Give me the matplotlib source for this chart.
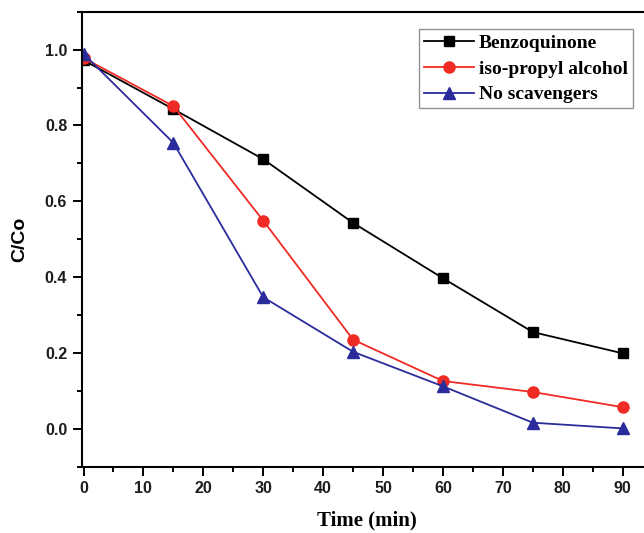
import numpy as np
import matplotlib
matplotlib.use('Agg')
import matplotlib.pyplot as plt
from matplotlib.ticker import MultipleLocator

# Degradation data (C/Co vs time) with different scavengers
time = [0, 15, 30, 45, 60, 75, 90]
benzoquinone = [0.972, 0.843, 0.711, 0.543, 0.397, 0.255, 0.199]
ipa = [0.978, 0.851, 0.549, 0.235, 0.126, 0.097, 0.057]
no_scav = [0.989, 0.754, 0.347, 0.203, 0.112, 0.016, 0.001]
labels = ['Benzoquinone', 'iso-propyl alcohol', 'No scavengers']

fig = plt.figure(figsize=(6.44, 5.33), dpi=100)
ax = fig.add_axes([0.1269, 0.1244, 0.8865, 0.8537])

ax.plot(time, benzoquinone, color='black', lw=1.3, marker='s', ms=7, label=labels[0])
ax.plot(time, ipa, color='#f02a24', lw=1.3, marker='o', ms=8, label=labels[1])
ax.plot(time, no_scav, color='#2b2c9c', lw=1.3, marker='^', ms=8.5, label=labels[2])

ax.set_xlim(-0.3, 95)
ax.set_ylim(-0.1, 1.1)
ax.xaxis.set_major_locator(MultipleLocator(10))
ax.xaxis.set_minor_locator(MultipleLocator(5))
ax.yaxis.set_major_locator(MultipleLocator(0.2))
ax.yaxis.set_minor_locator(MultipleLocator(0.1))
ax.yaxis.set_major_formatter(matplotlib.ticker.FormatStrFormatter('%.1f'))

for s in ['left', 'bottom', 'top']:
    ax.spines[s].set_linewidth(1.5)
ax.spines['right'].set_visible(False)
ax.tick_params(which='major', direction='out', length=6.5, width=1.4, pad=4,
               labelsize=11.5, top=False, right=False)
ax.tick_params(which='minor', direction='out', length=3.5, width=1.4,
               top=False, right=False)
for lab in ax.get_xticklabels() + ax.get_yticklabels():
    lab.set_fontweight('bold')
    lab.set_family('Liberation Sans')
    lab.set_color('#1e1e1e')

ax.set_xlabel('Time (min)', family='Liberation Serif', fontweight='bold', fontsize=15, labelpad=10)
ax.set_ylabel('C/Co', family='Liberation Sans', fontweight='bold', fontsize=14, labelpad=12)

leg = ax.legend(loc='upper right', bbox_to_anchor=(633 / 644, 1 - 29.3 / 533),
                bbox_transform=fig.transFigure, borderaxespad=0, fancybox=False,
                prop={'family': 'Liberation Serif', 'weight': 'bold', 'size': 14},
                handlelength=2.6, handletextpad=0.25, labelspacing=0.42, borderpad=0.25)
leg.get_frame().set_edgecolor('#777777')
leg.get_frame().set_linewidth(1.0)

fig.savefig('out.png', dpi=100)
